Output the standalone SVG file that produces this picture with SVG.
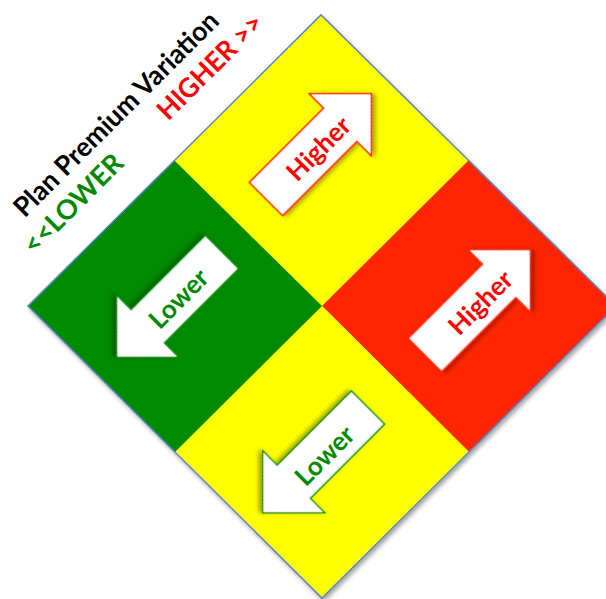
<svg xmlns="http://www.w3.org/2000/svg" width="606" height="599" viewBox="0 0 606 599">
<style>
.q{stroke:none}
.lbl{font-family:Lato,"Open Sans","Liberation Sans",sans-serif;font-weight:bold}
.hdr{font-size:27px}
.arrtxt{font-size:26px;text-anchor:middle;dominant-baseline:central}
.red{fill:#FF0000}
.grn{fill:#008A00}
</style>
<defs>
<filter id="sh" x="-10%" y="-10%" width="130%" height="130%">
<feDropShadow dx="2" dy="3" stdDeviation="2" flood-color="#000" flood-opacity="0.35"/>
</filter>
<path id="arrow" d="M0,-23.5 H105 V-44 L149,0 L105,44 V23.5 H0 Z" fill="#FFFFFF" stroke-width="1.3" stroke-linejoin="miter"/>
</defs>
<rect width="606" height="599" fill="#FFFFFF"/>
<g id="diamond">
<polygon points="321,15 616,306 322,598 28,306" fill="#FFFF00" stroke="#5B87C5" stroke-width="1.3" filter="url(#sh)"/>
</g>
<g id="top-yellow"><polygon class="q" points="321,15 468.5,160.5 322,306 174.5,160.5" fill="#FFFF00"/></g>
<g id="red-quad"><polygon class="q" points="468.5,160.5 616,306 469,452 322,306" fill="#FF2500"/></g>
<g id="bottom-yellow"><polygon class="q" points="322,306 469,452 322,598 175,452" fill="#FFFF00"/></g>
<g id="green-quad"><polygon class="q" points="174.5,160.5 322,306 175,452 28,306" fill="#008A00"/></g>
<g id="outline"><polygon points="321,15 616,306 322,598 28,306" fill="none" stroke="#5B87C5" stroke-width="1.3"/></g>

<g id="arrow-top-higher">
<use href="#arrow" transform="translate(266,199) rotate(-45)" stroke="#FF0000" filter="url(#sh)"/>
<text class="lbl arrtxt red" x="318" y="148" transform="rotate(-45 318 148)">Higher</text>
</g>
<g id="arrow-red-higher">
<use href="#arrow" transform="translate(425,355) rotate(-45)" stroke="#FF2500" filter="url(#sh)"/>
<text class="lbl arrtxt red" x="480" y="302" transform="rotate(-45 480 302)">Higher</text>
</g>
<g id="arrow-green-lower">
<use href="#arrow" transform="translate(222,252) rotate(135)" stroke="#008A00" filter="url(#sh)"/>
<text class="lbl arrtxt grn" x="178" y="298" transform="rotate(-45 178 298)">Lower</text>
</g>
<g id="arrow-bottom-lower">
<use href="#arrow" transform="translate(368,407.5) rotate(135)" stroke="#008A00" filter="url(#sh)"/>
<text class="lbl arrtxt grn" x="324" y="455" transform="rotate(-45 324 455)">Lower</text>
</g>

<g id="title" transform="rotate(-45)">
<text class="lbl hdr" x="-137" y="172" fill="#000000" textLength="277" lengthAdjust="spacingAndGlyphs">Plan Premium Variation</text>
<text class="lbl hdr grn" x="-157" y="205" textLength="129" lengthAdjust="spacingAndGlyphs">&lt;&lt;LOWER</text>
<text class="lbl hdr red" x="33" y="205" textLength="137" lengthAdjust="spacingAndGlyphs">HIGHER &gt;&gt;</text>
</g>
</svg>
